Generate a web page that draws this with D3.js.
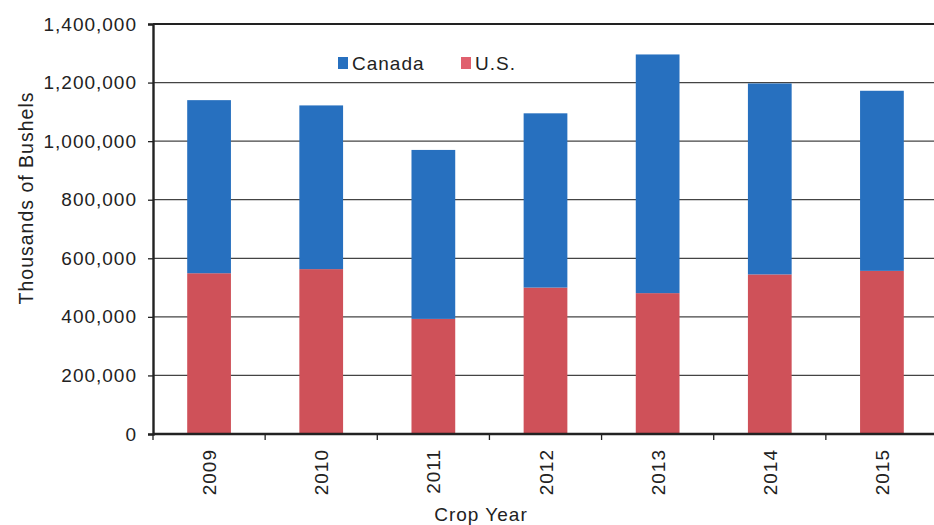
<!DOCTYPE html>
<html>
<head>
<meta charset="utf-8">
<script src="https://cdn.jsdelivr.net/npm/d3@7"></script>
<style>
  html, body { margin: 0; padding: 0; background: #fff; }
  svg { display: block; }
  text { font-family: "Liberation Sans", Arial, sans-serif; fill: #222; letter-spacing: 1px; }
</style>
</head>
<body>
<svg id="chart" width="934" height="525"></svg>
<script>
// Crop years and production (thousands of bushels)
const years = ["2009", "2010", "2011", "2012", "2013", "2014", "2015"];
const usValues = [549000, 563000, 393000, 500000, 481000, 545000, 557000];
const canadaValues = [591000, 559000, 577000, 595000, 815000, 652000, 615000];
const yTicks = [0, 200000, 400000, 600000, 800000, 1000000, 1200000, 1400000];
const seriesNames = ["Canada", "U.S."];
const seriesColors = { "Canada": "#2770bf", "U.S.": "#cf5159" };

const svg = d3.select("#chart");
const margin = { left: 153, right: -4, top: 24, bottom: 91 };
const W = 934, H = 525;
const FS = "19px";

const x = d3.scaleBand()
  .domain(years)
  .range([margin.left, W - margin.right])
  .paddingInner(0.61)
  .paddingOuter(0.305);

const y = d3.scaleLinear()
  .domain([0, 1400000])
  .range([H - margin.bottom, margin.top]);

// Stack: U.S. at the bottom, Canada above
const rows = years.map((yr, i) => ({ year: yr, "U.S.": usValues[i], "Canada": canadaValues[i] }));
const stacked = d3.stack().keys(["U.S.", "Canada"])(rows);

// Horizontal gridlines
svg.append("g")
  .selectAll("line")
  .data(yTicks.filter(t => t > 0))
  .join("line")
  .attr("x1", margin.left)
  .attr("x2", W)
  .attr("y1", d => y(d))
  .attr("y2", d => y(d))
  .attr("stroke", d => d === 1400000 ? "#222" : "#444")
  .attr("stroke-width", d => d === 1400000 ? 2.2 : 1.3);

// Bars
svg.append("g")
  .selectAll("g")
  .data(stacked)
  .join("g")
  .attr("fill", s => seriesColors[s.key])
  .selectAll("rect")
  .data(s => s)
  .join("rect")
  .attr("x", d => x(d.data.year))
  .attr("width", x.bandwidth())
  .attr("y", d => y(d[1]))
  .attr("height", d => y(d[0]) - y(d[1]));

// Y axis
const yAxis = svg.append("g")
  .attr("transform", `translate(${margin.left},0)`)
  .call(d3.axisLeft(y).tickValues(yTicks).tickSize(5).tickPadding(11).tickFormat(d3.format(",")));
yAxis.select(".domain").attr("stroke", "#222").attr("stroke-width", 2.4);
yAxis.selectAll(".tick line").attr("stroke", "#222").attr("stroke-width", 1.3);
yAxis.selectAll(".tick text")
  .style("font-size", FS)
  .style("font-family", "'Liberation Sans', Arial, sans-serif")
  .style("letter-spacing", "1px")
  .attr("fill", "#222");

// X axis baseline with ticks between categories
const xBase = y(0);
svg.append("line")
  .attr("x1", margin.left).attr("x2", W)
  .attr("y1", xBase).attr("y2", xBase)
  .attr("stroke", "#222").attr("stroke-width", 2.4);
const step = x.step();
svg.append("g")
  .selectAll("line")
  .data(d3.range(years.length + 1))
  .join("line")
  .attr("x1", i => margin.left + i * step)
  .attr("x2", i => margin.left + i * step)
  .attr("y1", xBase)
  .attr("y2", xBase + 6)
  .attr("stroke", "#222").attr("stroke-width", 1.3);

// Rotated year labels
svg.append("g")
  .selectAll("text")
  .data(years)
  .join("text")
  .attr("transform", d => `translate(${x(d) + x.bandwidth() / 2 + 7},${xBase + 15}) rotate(-90)`)
  .attr("text-anchor", "end")
  .style("font-size", FS)
  .text(d => d);

// Axis titles
svg.append("text")
  .attr("transform", "translate(33,198) rotate(-90)")
  .attr("text-anchor", "middle")
  .style("font-size", "19.5px")
  .text("Thousands of Bushels");

svg.append("text")
  .attr("x", 481)
  .attr("y", 521)
  .attr("text-anchor", "middle")
  .style("font-size", FS)
  .text("Crop Year");

// Legend
const legend = svg.append("g").attr("transform", "translate(338,57)");
const legendX = [0, 123];
seriesNames.forEach((name, i) => {
  const g = legend.append("g").attr("transform", `translate(${legendX[i]},0)`);
  g.append("rect").attr("width", 10).attr("height", 12)
    .attr("fill", name === "U.S." ? "#e0606e" : seriesColors[name]);
  g.append("text").attr("x", 14).attr("y", 12.5).style("font-size", FS).text(name);
});
</script>
</body>
</html>
